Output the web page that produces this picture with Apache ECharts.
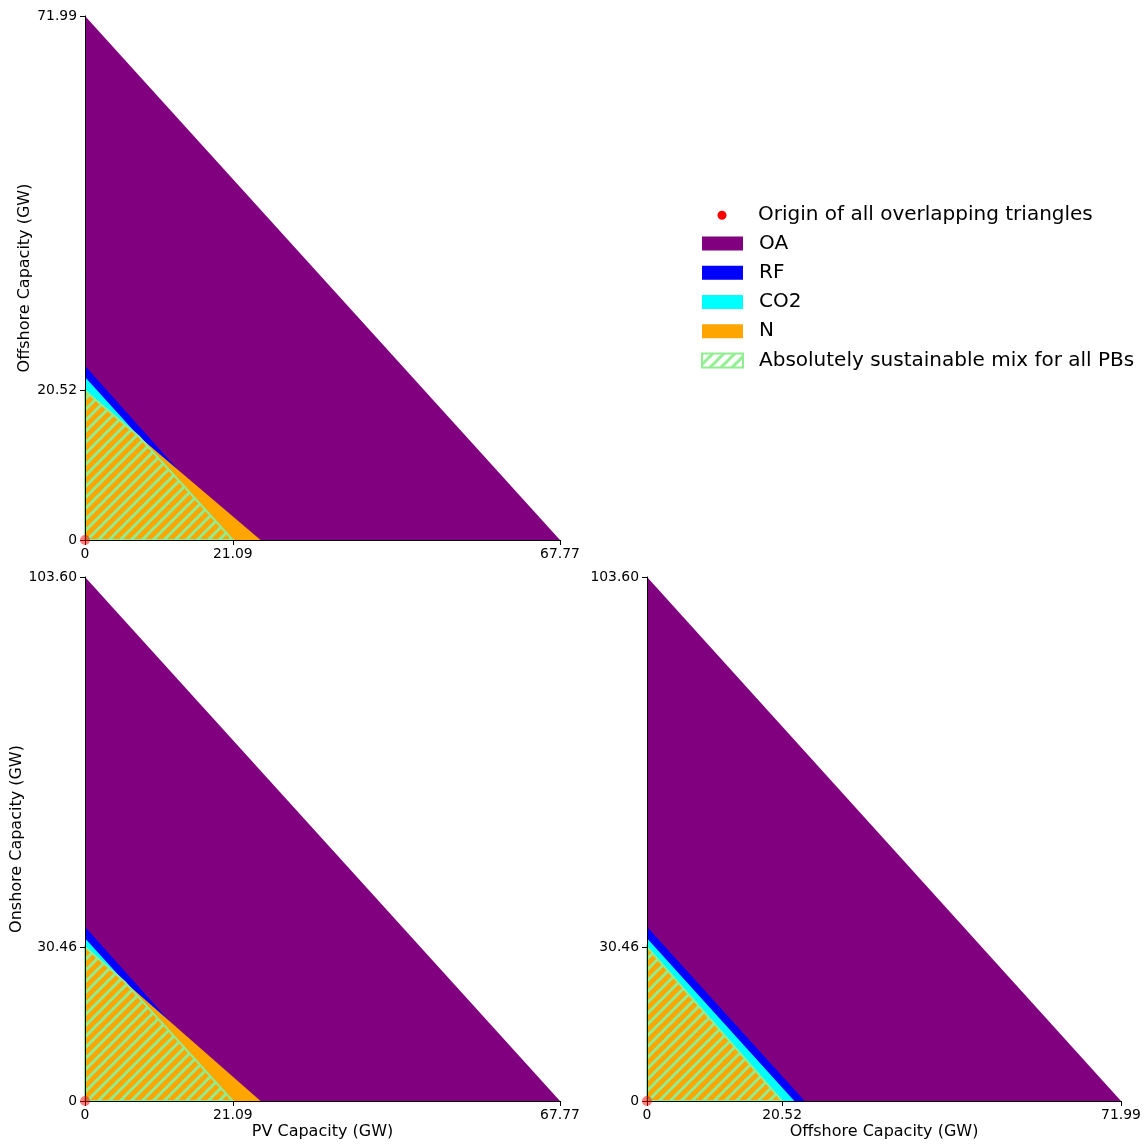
<!DOCTYPE html>
<html>
<head>
<meta charset="utf-8">
<title>Planetary boundary capacity triangles</title>
<script src="https://cdn.jsdelivr.net/npm/echarts@6/dist/echarts.min.js"></script>
<style>
  html, body { margin: 0; padding: 0; background: #ffffff; }
  #chart { width: 1146px; height: 1144px; }
</style>
</head>
<body>
<div id="chart"></div>
<script>
// Planetary boundaries and the installed capacity (GW) at which each one is reached
// when a single technology carries the whole mix.
const boundaryNames = ['OA', 'RF', 'CO2', 'N'];
const pvLimits = [67.77, 22.20, 21.09, 25.05];
const offshoreLimits = [71.99, 23.95, 22.38, 20.52];
const onshoreLimits = [103.60, 34.45, 32.20, 30.46];

// Tick labels shown on each capacity axis
const pvTicks = [0, 21.09, 67.77];
const offshoreTicks = [0, 20.52, 71.99];
const onshoreTicks = [0, 30.46, 103.60];

// Common corner of every triangle
const originPoint = [0, 0];

const SAFE_NAME = 'Absolutely sustainable mix for all PBs';
const ORIGIN_NAME = 'Origin of all overlapping triangles';
const FONT = 'DejaVu Sans';
const boundaryColors = { OA: '#800080', RF: '#0000ff', CO2: '#00ffff', N: '#ffa500' };
const HATCH_GREEN = '#90ee90';

const panels = [
  { x: pvLimits, y: offshoreLimits, xTicks: pvTicks, yTicks: offshoreTicks,
    xName: '', yName: 'Offshore Capacity (GW)' },
  { x: pvLimits, y: onshoreLimits, xTicks: pvTicks, yTicks: onshoreTicks,
    xName: 'PV Capacity (GW)', yName: 'Onshore Capacity (GW)' },
  { x: offshoreLimits, y: onshoreLimits, xTicks: offshoreTicks, yTicks: onshoreTicks,
    xName: 'Offshore Capacity (GW)', yName: '' }
];
const gridBoxes = [
  { left: 85, top: 16, width: 475, height: 524 },
  { left: 85, top: 577, width: 475, height: 524 },
  { left: 647, top: 577, width: 474, height: 524 }
];

// Keep the part of a polygon that satisfies x/a + y/b <= 1
function clipHalfPlane(poly, a, b) {
  const f = p => p[0] / a + p[1] / b - 1;
  const out = [];
  for (let i = 0; i < poly.length; i++) {
    const p = poly[i], q = poly[(i + 1) % poly.length];
    const fp = f(p), fq = f(q);
    if (fp <= 0) out.push(p);
    if ((fp < 0 && fq > 0) || (fp > 0 && fq < 0)) {
      const t = fp / (fp - fq);
      out.push([p[0] + t * (q[0] - p[0]), p[1] + t * (q[1] - p[1])]);
    }
  }
  return out;
}

// Region inside every boundary triangle
function safeRegion(xl, yl) {
  let poly = [[0, 0], [xl[0], 0], [0, yl[0]]];
  for (let i = 1; i < xl.length; i++) poly = clipHalfPlane(poly, xl[i], yl[i]);
  return poly;
}

// Diagonal "/" hatch tile
function hatchTile(size, width) {
  const c = document.createElement('canvas');
  c.width = size; c.height = size;
  const g = c.getContext('2d');
  g.strokeStyle = HATCH_GREEN;
  g.lineWidth = width;
  g.beginPath();
  g.moveTo(-2, size + 2); g.lineTo(size + 2, -2);
  g.moveTo(-2, 2); g.lineTo(2, -2);
  g.moveTo(size - 2, size + 2); g.lineTo(size + 2, size - 2);
  g.stroke();
  return c;
}
const hatchFill = { image: hatchTile(11, 3), repeat: 'repeat' };

const tickFormat = v => (v === 0 ? '0' : v.toFixed(2));
const textBase = { fontFamily: FONT, color: '#000000' };

const xAxes = [], yAxes = [], series = [];

panels.forEach((pn, k) => {
  xAxes.push({
    type: 'value', gridIndex: k, min: 0, max: pn.x[0], z: 5,
    name: pn.xName, nameLocation: 'middle', nameGap: 23,
    nameTextStyle: Object.assign({ fontSize: 16 }, textBase),
    axisLine: { show: true, onZero: false, lineStyle: { color: '#000000', width: 1 } },
    axisTick: { show: true, length: 5, customValues: pn.xTicks, lineStyle: { color: '#000000', width: 1 } },
    axisLabel: Object.assign({ customValues: pn.xTicks, formatter: tickFormat, margin: 7, fontSize: 13.9 }, textBase),
    splitLine: { show: false }
  });
  yAxes.push({
    type: 'value', gridIndex: k, min: 0, max: pn.y[0], z: 5,
    name: pn.yName, nameLocation: 'middle', nameGap: 52, nameRotate: 90,
    nameTextStyle: Object.assign({ fontSize: 16 }, textBase),
    axisLine: { show: true, onZero: false, lineStyle: { color: '#000000', width: 1 } },
    axisTick: { show: true, length: 5, customValues: pn.yTicks, lineStyle: { color: '#000000', width: 1 } },
    axisLabel: Object.assign({ customValues: pn.yTicks, formatter: tickFormat, margin: 8, fontSize: 13.9 }, textBase),
    splitLine: { show: false }
  });

  // One filled triangle per boundary, from its two intercepts
  boundaryNames.forEach((name, i) => {
    series.push({
      type: 'custom', name: name, xAxisIndex: k, yAxisIndex: k, z: 2,
      clip: false, silent: true,
      itemStyle: { color: boundaryColors[name] },
      data: [[pn.x[i], pn.y[i]]],
      renderItem: (params, api) => {
        const o = api.coord(originPoint);
        const px = api.coord([api.value(0), 0]);
        const py = api.coord([0, api.value(1)]);
        return { type: 'polygon', shape: { points: [o, px, py] },
                 style: { fill: boundaryColors[name], stroke: null } };
      }
    });
  });

  // Hatched overlap of all boundaries
  const region = safeRegion(pn.x, pn.y);
  series.push({
    type: 'custom', name: SAFE_NAME, xAxisIndex: k, yAxisIndex: k, z: 3,
    clip: false, silent: true,
    itemStyle: { color: HATCH_GREEN },
    data: region,
    renderItem: (params, api) => {
      if (params.dataIndex !== 0) return null;
      const pts = region.map(p => api.coord(p));
      return { type: 'polygon', shape: { points: pts },
               style: { fill: hatchFill, stroke: HATCH_GREEN, lineWidth: 2 } };
    }
  });

  // Shared origin marker
  series.push({
    type: 'scatter', name: ORIGIN_NAME, xAxisIndex: k, yAxisIndex: k, z: 10,
    clip: false, silent: true, symbol: 'circle', symbolSize: 10,
    itemStyle: { color: '#ff0000', opacity: 0.5 },
    data: [originPoint]
  });
});

const legendText = Object.assign({ fontSize: 20 }, textBase);

const option = {
  animation: false,
  backgroundColor: '#ffffff',
  grid: gridBoxes.map(g => Object.assign({ containLabel: false }, g)),
  xAxis: xAxes,
  yAxis: yAxes,
  legend: [
    {
      orient: 'vertical', left: 717.5, top: 205.2, padding: 0,
      itemWidth: 9, itemHeight: 9, icon: 'circle', selectedMode: false,
      data: [{ name: ORIGIN_NAME, itemStyle: { color: '#ff0000', opacity: 1 } }],
      textStyle: Object.assign({ lineHeight: 9, padding: [0, 0, 0, 26.5] }, legendText)
    },
    {
      orient: 'vertical', left: 701, top: 233.6, padding: 0,
      itemWidth: 41, itemHeight: 14, itemGap: 9.2, icon: 'rect', selectedMode: false,
      data: boundaryNames.map(n => ({ name: n, itemStyle: { color: boundaryColors[n] } }))
        .concat([{ name: SAFE_NAME,
                   itemStyle: { color: hatchFill, borderColor: HATCH_GREEN, borderWidth: 2 } }]),
      textStyle: Object.assign({ lineHeight: 14, padding: [0, 0, 0, 11] }, legendText)
    }
  ],
  series: series
};

const chart = echarts.init(document.getElementById('chart'), null, { renderer: 'canvas' });
chart.setOption(option);
</script>
</body>
</html>
